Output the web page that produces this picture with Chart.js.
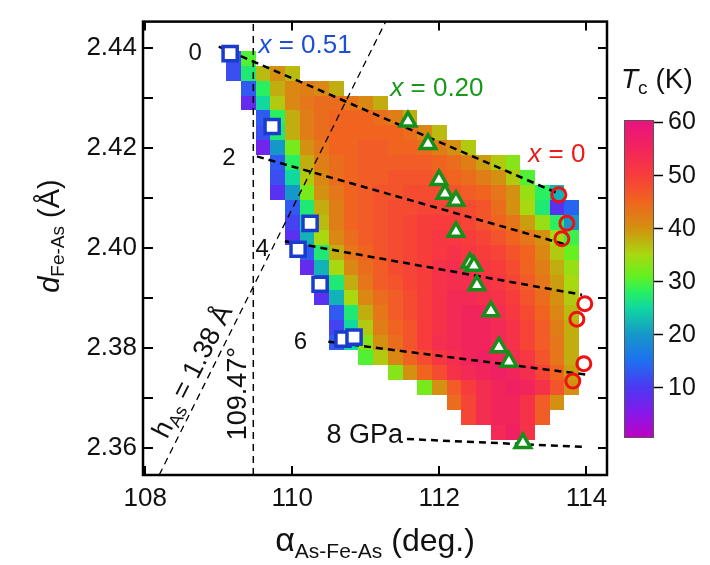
<!DOCTYPE html>
<html><head><meta charset="utf-8">
<script src="https://cdn.jsdelivr.net/npm/chart.js@4.4.0/dist/chart.umd.min.js"></script>
<style>html,body{margin:0;padding:0;background:#fff;}#wrap{width:710px;height:565px;}</style>
</head><body><div id="wrap"><canvas id="c" width="710" height="565"></canvas></div>
<script>
// ---------- tick labels ----------
const xTicks = [108, 110, 112, 114];
const yTicks = [2.36, 2.38, 2.40, 2.42, 2.44];
const yMinorTicks = [2.37, 2.39, 2.41, 2.43];
const cbTicks = [10, 20, 30, 40, 50, 60];

// ---------- Tc map (K): one row per d value, starting at alpha = heatRowX0, step 0.2 deg ----------
const heatRowY = [2.438,2.435,2.432,2.429,2.426,2.423,2.420,2.417,2.414,2.411,2.408,2.405,2.402,2.399,2.396,2.393,2.390,2.387,2.384,2.381,2.378,2.375,2.372,2.369,2.366,2.363];
const heatRowX0 = [109.2,109.2,109.4,109.4,109.6,109.6,109.6,109.8,109.8,109.8,110.0,110.0,110.0,110.2,110.2,110.4,110.4,110.6,110.6,110.6,111.0,111.4,111.8,112.2,112.4,112.8];
const heatTc = [
  [12,30],
  [12,27,37,40,37],
  [13,28,38,41,42,41,38],
  [8,25,36,41,43,44,44,43,41,38],
  [13,28,38,42,44,45,45,45,44,42,38],
  [12,27,38,42,44,45,45,45,45,45,44,41,37],
  [7,20,32,40,43,45,45,46,46,45,45,44,42,40,36],
  [13,28,38,42,44,45,46,46,46,46,46,45,44,42,39,36,33],
  [12,25,36,41,44,45,46,46,47,47,47,46,45,44,42,40,36,30],
  [9,20,32,40,43,45,46,47,47,48,48,48,47,46,45,43,40,34,28,22],
  [13,27,38,42,45,46,47,48,48,49,49,49,48,47,44,40,35,27,9,14],
  [11,25,37,42,45,46,47,48,49,50,50,50,49,47,45,43,39,34,28,20],
  [9,22,35,41,44,46,47,48,49,50,51,51,50,49,47,45,43,40,35,29],
  [13,27,38,43,45,47,48,49,50,51,52,51,50,49,47,45,41,36,31],
  [8,22,35,41,44,46,48,49,50,52,53,52,51,50,48,45,42,38,34],
  [13,27,38,43,46,47,49,50,52,53,53,52,51,49,46,43,39,35],
  [9,22,35,41,44,46,48,50,52,54,54,53,52,50,47,44,40,36],
  [13,27,38,43,46,48,50,52,54,55,55,53,51,48,45,41,37],
  [11,25,36,42,45,47,50,52,54,55,55,54,52,49,46,42,38],
  [13,25,33,40,44,47,50,53,54,55,55,54,52,49,46,43,38],
  [30,36,41,45,48,51,53,55,56,55,53,51,47,43,38],
  [33,40,45,48,52,54,55,56,55,53,49,45,39],
  [32,40,46,50,53,55,56,55,52,47,40],
  [44,49,53,55,55,52,46,40],
  [49,53,55,55,52,46],
  [54,56,52]
];

// ---------- colour scale ----------
const cmapVals = [0, 5, 10, 15, 20, 25, 28, 31, 35, 40, 45, 50, 55, 60];
const cmapCols = ['#c000c0','#8818e8','#4c38f2','#1e70f0','#1598c8','#10d8a0','#28f060','#66f020','#a8d810','#d49010','#f06420','#f83c3c','#f2245c','#e8147e'];

// ---------- markers ----------
const sqX = [109.155,109.726,110.242,110.079,110.378,110.690,110.840];
const sqY = [2.4389,2.4243,2.4049,2.3997,2.3927,2.3817,2.3821];
const triX = [111.573,111.845,111.995,112.076,112.226,112.226,112.416,112.470,112.511,112.701,112.810,112.946,113.136];
const triY = [2.4253,2.4208,2.4136,2.4108,2.4094,2.4032,2.3970,2.3964,2.3925,2.3873,2.3801,2.3772,2.3609];
const cirX = [113.625,113.734,113.666,113.978,113.870,113.965,113.815];
const cirY = [2.4106,2.4049,2.4018,2.3888,2.3857,2.3768,2.3733];

// ---------- guide lines ----------
const p0X = [109.00, 113.63], p0Y = [2.4403, 2.4108];
const p2X = [109.52, 113.73], p2Y = [2.4183, 2.4006];
const p4X = [109.90, 113.94], p4Y = [2.4013, 2.3906];
const p6X = [110.49, 114.00], p6Y = [2.3812, 2.3746];
const p8X = [111.56, 114.00], p8Y = [2.3617, 2.3601];
const hAsX = [108.19, 111.27], hAsY = [2.3545, 2.4453];
const tetX = [109.47, 109.47], tetY = [2.3545, 2.4453];

const FONT = '"Liberation Sans", Arial, Helvetica, sans-serif';
const CELL_W = 0.2, CELL_H = 0.003;

function hexToRgb(h){return [parseInt(h.slice(1,3),16),parseInt(h.slice(3,5),16),parseInt(h.slice(5,7),16)];}
function tcColor(t){
  if (t <= cmapVals[0]) return cmapCols[0];
  for (let i=1;i<cmapVals.length;i++){
    if (t <= cmapVals[i]){
      const f=(t-cmapVals[i-1])/(cmapVals[i]-cmapVals[i-1]);
      const a=hexToRgb(cmapCols[i-1]), b=hexToRgb(cmapCols[i]);
      return 'rgb('+a.map((v,k)=>Math.round(v+(b[k]-v)*f)).join(',')+')';
    }
  }
  return cmapCols[cmapCols.length-1];
}
function pts(xs, ys){return xs.map((x,i)=>({x:x,y:ys[i]}));}
function drawRich(ctx, parts, x, y, angle, align, color){
  ctx.save(); ctx.translate(x,y); ctx.rotate(angle);
  ctx.fillStyle=color; ctx.textBaseline='alphabetic'; ctx.textAlign='left';
  let w=0; for (const p of parts){ctx.font=p.font; w+=ctx.measureText(p.t).width;}
  let cx = align==='center' ? -w/2 : (align==='right' ? -w : 0);
  for (const p of parts){ctx.font=p.font; ctx.fillText(p.t, cx, p.dy||0); cx+=ctx.measureText(p.t).width;}
  ctx.restore();
}

const heatPlugin = {
  id:'heat',
  beforeDatasetsDraw(chart){
    const {ctx, scales:{x,y}} = chart;
    ctx.save();
    heatTc.forEach((row,j)=>{
      const yc = heatRowY[j];
      const y0 = Math.round(y.getPixelForValue(yc + CELL_H/2));
      const y1 = Math.round(y.getPixelForValue(yc - CELL_H/2));
      row.forEach((t,k)=>{
        const xc = heatRowX0[j] + k*CELL_W;
        const x0 = Math.round(x.getPixelForValue(xc - CELL_W/2));
        const x1 = Math.round(x.getPixelForValue(xc + CELL_W/2));
        ctx.fillStyle = tcColor(t);
        ctx.fillRect(x0, y0, x1-x0, y1-y0);
      });
    });
    ctx.restore();
  }
};

const decoPlugin = {
  id:'deco',
  afterDraw(chart){
    const {ctx, chartArea:a, scales:{x,y}} = chart;
    ctx.save();
    ctx.strokeStyle='#000'; ctx.lineWidth=2.5;
    ctx.strokeRect(a.left, a.top, a.right-a.left, a.bottom-a.top);
    ctx.lineWidth=2;
    ctx.beginPath();
    xTicks.forEach(v=>{const px=Math.round(x.getPixelForValue(v));
      ctx.moveTo(px,a.bottom); ctx.lineTo(px,a.bottom-9);
      ctx.moveTo(px,a.top); ctx.lineTo(px,a.top+9);});
    yTicks.concat(yMinorTicks).forEach(v=>{const py=Math.round(y.getPixelForValue(v));
      ctx.moveTo(a.left,py); ctx.lineTo(a.left+10,py);
      ctx.moveTo(a.right,py); ctx.lineTo(a.right-9,py);});
    ctx.stroke();

    const F24='24px '+FONT, F26='26px '+FONT, I26='italic 26px '+FONT, F27='27px '+FONT;
    const at = (dx,dy)=>[x.getPixelForValue(dx), y.getPixelForValue(dy)];
    let p;
    p=at(108.68,2.4377); drawRich(ctx,[{t:'0',font:F24}],p[0],p[1],0,'center','#111');
    p=at(109.14,2.4166); drawRich(ctx,[{t:'2',font:F24}],p[0],p[1],0,'center','#111');
    p=at(109.59,2.3984); drawRich(ctx,[{t:'4',font:F24}],p[0],p[1],0,'center','#111');
    p=at(110.11,2.3797); drawRich(ctx,[{t:'6',font:F24}],p[0],p[1],0,'center','#111');
    p=at(111.505,2.3609); drawRich(ctx,[{t:'8 GPa',font:F27}],p[0],p[1],0,'right','#111');
    p=at(110.174,2.4391); drawRich(ctx,[{t:'x',font:I26},{t:' = 0.51',font:F26}],p[0],p[1],0,'center','#1d4fd6');
    p=at(111.967,2.4305); drawRich(ctx,[{t:'x',font:I26},{t:' = 0.20',font:F26}],p[0],p[1],0,'center','#179a17');
    p=at(113.598,2.4171); drawRich(ctx,[{t:'x',font:I26},{t:' = 0',font:F26}],p[0],p[1],0,'center','#ee1a1a');
    p=at(109.37,2.3708); drawRich(ctx,[{t:'109.47°',font:F27}],p[0],p[1],-Math.PI/2,'center','#111');
    p=at(108.745,2.3745); drawRich(ctx,[{t:'h',font:F27},{t:'As',font:'18px '+FONT,dy:5},{t:' = 1.38 Å',font:F27}],p[0],p[1],-63*Math.PI/180,'center','#111');

    drawRich(ctx,[{t:'α',font:'34px '+FONT},{t:'As-Fe-As',font:'21px '+FONT,dy:7},{t:' (deg.)',font:'32px '+FONT}],375,551,0,'center','#111');
    drawRich(ctx,[{t:'d',font:'italic 29px '+FONT},{t:'Fe-As',font:'19px '+FONT,dy:5},{t:' (Å)',font:'29px '+FONT}],59,236,-Math.PI/2,'center','#111');

    const cbL=624, cbR=654, cbT=120, cbB=438, cbMin=0.5, cbMax=60.3;
    const cbY = v => cbB - (v-cbMin)/(cbMax-cbMin)*(cbB-cbT);
    const g = ctx.createLinearGradient(0,cbB,0,cbT);
    cmapVals.forEach((v,i)=>{const f=Math.min(1,Math.max(0,(v-cbMin)/(cbMax-cbMin))); g.addColorStop(f,cmapCols[i]);});
    ctx.fillStyle=g; ctx.fillRect(cbL,cbT,cbR-cbL,cbB-cbT);
    ctx.strokeStyle='#555'; ctx.lineWidth=1; ctx.strokeRect(cbL+0.5,cbT+0.5,cbR-cbL-1,cbB-cbT-1);
    ctx.strokeStyle='#000'; ctx.lineWidth=1.5; ctx.beginPath();
    cbTicks.forEach(v=>{const py=Math.round(cbY(v))+0.5; ctx.moveTo(cbR,py); ctx.lineTo(cbR+9,py);});
    ctx.stroke();
    ctx.fillStyle='#111'; ctx.font='25px '+FONT; ctx.textAlign='left'; ctx.textBaseline='middle';
    cbTicks.forEach(v=>ctx.fillText(String(v), 668, cbY(v)+1));
    drawRich(ctx,[{t:'T',font:'italic 28px '+FONT},{t:'c',font:'19px '+FONT,dy:6},{t:' (K)',font:'28px '+FONT}],621,88,0,'left','#111');
    ctx.restore();
  }
};

const lineDs = (xs,ys,w,dash)=>({data:pts(xs,ys), showLine:true, pointRadius:0, borderColor:'#000', borderWidth:w, borderDash:dash, fill:false, order:2});

new Chart(document.getElementById('c'), {
  type:'scatter',
  data:{datasets:[
    {data:pts(sqX,sqY), pointStyle:'rect', pointRadius:10, pointBackgroundColor:'#fff', pointBorderColor:'#1a3ccc', pointBorderWidth:3.5, order:0},
    {data:pts(triX,triY), pointStyle:'triangle', pointRadius:9, pointBackgroundColor:'#fff', pointBorderColor:'#15901a', pointBorderWidth:3.5, order:0},
    {data:pts(cirX,cirY), pointStyle:'circle', pointRadius:7, pointBackgroundColor:'rgba(255,255,255,0)', pointBorderColor:'#ee1111', pointBorderWidth:3, order:0},
    lineDs(p0X,p0Y,2.5,[7,5]),
    lineDs(p2X,p2Y,2.5,[7,5]),
    lineDs(p4X,p4Y,2.5,[7,5]),
    lineDs(p6X,p6Y,2.5,[7,5]),
    lineDs(p8X,p8Y,2.5,[7,5]),
    lineDs(hAsX,hAsY,1.3,[7,5]),
    lineDs(tetX,tetY,1.5,[7,5])
  ]},
  options:{
    responsive:false, devicePixelRatio:1, animation:false, events:[],
    layout:{padding:{left:0, top:7, right:103, bottom:0}},
    plugins:{legend:{display:false}, tooltip:{enabled:false}},
    scales:{
      x:{type:'linear', min:107.97, max:114.28,
        afterBuildTicks:s=>{s.ticks=xTicks.map(v=>({value:v}));},
        afterFit:s=>{s.height=90;},
        grid:{display:false, drawTicks:false}, border:{display:false},
        ticks:{font:{size:26, family:FONT}, color:'#111', padding:8, maxRotation:0, autoSkip:false, callback:v=>String(v)}},
      y:{type:'linear', min:2.3545, max:2.4453,
        afterBuildTicks:s=>{s.ticks=yTicks.map(v=>({value:v}));},
        afterFit:s=>{s.width=143;},
        grid:{display:false, drawTicks:false}, border:{display:false},
        ticks:{font:{size:26, family:FONT}, color:'#111', padding:6, autoSkip:false, callback:v=>v.toFixed(2)}}
    }
  },
  plugins:[heatPlugin, decoPlugin]
});
</script></body></html>
